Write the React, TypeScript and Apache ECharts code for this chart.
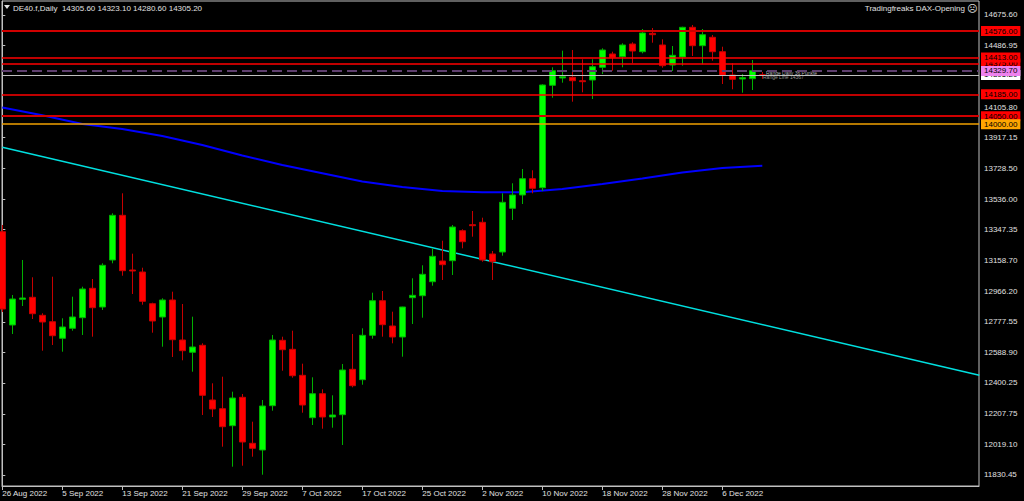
import React, { useEffect, useRef } from "react";
import * as echarts from "echarts";

// Daily candles, 26 Aug 2022 (index 0) .. 12 Dec 2022 (index 76)
const opens = [
  13335.3, 12758.2, 12917.2, 12929.6, 12818.2, 12778.6, 12676.0, 12737.8, 12803.4, 12985.2,
  12869.6, 13160.3, 13436.7, 13098.4, 13086.0, 12890.0, 12807.7, 12912.9, 12665.4, 12589.4,
  12632.7, 12294.3, 12240.5, 12135.4, 12311.0, 12026.5, 11985.1, 12259.1, 12663.6, 12607.9,
  12447.1, 12184.9, 12333.3, 12189.2, 12203.4, 12484.2, 12419.9, 12694.5, 12908.5, 12752.0,
  12684.0, 12927.1, 12939.4, 13026.0, 13154.1, 13155.9, 13341.5, 13378.6, 13393.4, 13197.4,
  13209.7, 13480.0, 13562.3, 13663.1, 13607.4, 14240.8, 14285.9, 14290.3, 14269.2, 14273.6,
  14352.1, 14434.4, 14417.7, 14496.2, 14448.6, 14562.4, 14490.1, 14366.4, 14415.8, 14599.5,
  14485.7, 14537.7, 14448.6, 14304.5, 14279.8, 14281.6, 14305.6,
];
const closes = [
  12857.2, 12919.0, 12925.2, 12828.1, 12776.8, 12692.0, 12745.9, 12807.7, 12980.9, 12865.2,
  13127.5, 13436.7, 13094.1, 13092.2, 12904.8, 12783.0, 12912.9, 12667.3, 12599.3, 12622.2,
  12323.4, 12238.7, 12129.2, 12306.7, 12034.6, 11995.6, 12257.2, 12665.4, 12605.5, 12444.6,
  12263.4, 12333.3, 12189.2, 12201.6, 12479.9, 12382.8, 12694.5, 12908.5, 12760.1, 12684.0,
  12869.6, 12941.9, 13071.8, 13183.1, 13131.2, 13364.4, 13273.4, 13372.4, 13160.3, 13149.7,
  13517.1, 13562.3, 13663.1, 13603.7, 14242.7, 14331.1, 14294.0, 14269.2, 14263.1, 14355.8,
  14459.1, 14414.0, 14490.1, 14452.9, 14564.3, 14553.8, 14362.0, 14426.3, 14599.5, 14485.7,
  14553.8, 14448.6, 14302.6, 14277.9, 14287.8, 14331.1, 14305.2,
];
const lows = [
  12838.6, 12702.6, 12875.7, 12795.3, 12599.3, 12634.5, 12593.1, 12723.0, 12696.4, 12685.9,
  12851.0, 13139.8, 13063.1, 12950.0, 12883.8, 12710.6, 12624.0, 12560.3, 12539.9, 12469.4,
  12201.6, 12189.2, 12005.5, 11881.8, 11888.0, 11943.6, 11832.3, 12228.2, 12475.6, 12432.3,
  12215.8, 12139.7, 12116.8, 12123.0, 12016.0, 12372.9, 12389.0, 12673.5, 12685.9, 12645.0,
  12562.2, 12764.4, 12803.4, 13001.3, 13036.6, 13067.5, 13232.6, 13304.4, 13149.7, 13036.6,
  13186.9, 13407.7, 13506.6, 13572.8, 13587.0, 14164.1, 14256.9, 14139.4, 14197.5, 14156.0,
  14310.7, 14331.1, 14352.1, 14376.9, 14438.7, 14504.3, 14349.7, 14329.2, 14362.0, 14422.0,
  14370.7, 14392.9, 14248.8, 14216.1, 14195.0, 14211.7, 14280.6,
];
const highs = [
  13376.7, 12943.8, 13160.3, 13053.3, 12830.6, 13057.0, 12799.7, 12933.3, 12995.1, 13042.7,
  13139.8, 13449.1, 13572.8, 13199.2, 13112.6, 12896.2, 12923.4, 12964.2, 12888.1, 12809.6,
  12645.0, 12397.6, 12438.5, 12345.7, 12331.5, 12160.1, 12294.3, 12696.4, 12685.9, 12723.0,
  12518.9, 12434.7, 12360.5, 12323.4, 12517.0, 12702.6, 12737.8, 12958.0, 12968.5, 12840.5,
  12871.4, 13047.1, 13127.5, 13232.6, 13279.6, 13376.7, 13350.1, 13463.3, 13421.9, 13215.9,
  13572.8, 13634.7, 13723.1, 13715.1, 14247.0, 14352.1, 14454.8, 14459.1, 14401.6, 14401.6,
  14469.6, 14448.6, 14500.6, 14506.8, 14589.0, 14595.2, 14525.3, 14483.9, 14603.2, 14613.8,
  14589.0, 14551.9, 14479.5, 14376.9, 14310.7, 14397.3, 14323.1,
];

// Date axis
const tickPositions = [0, 6, 12, 18, 24, 30, 36, 42, 48, 54, 60, 66, 72];
const tickLabels = [
  "26 Aug 2022", "5 Sep 2022", "13 Sep 2022", "21 Sep 2022", "29 Sep 2022", "7 Oct 2022",
  "17 Oct 2022", "25 Oct 2022", "2 Nov 2022", "10 Nov 2022", "18 Nov 2022", "28 Nov 2022", "6 Dec 2022",
];

// Price axis labels
const priceTicks = [
  14675.6, 14486.95, 14105.8, 13917.15, 13728.5, 13536.0, 13347.35, 13158.7,
  12966.2, 12777.55, 12588.9, 12400.25, 12207.75, 12019.1, 11830.45,
];

// Moving average (blue) read at bar positions
const maIndex = [0, 4, 8, 12, 16, 20, 24, 28, 32, 36, 40, 44, 48, 52, 56, 60, 64, 68, 72, 76];
const maValues = [
  14103.5, 14055.2, 14001.4, 13970.5, 13927.2, 13871.5, 13806.6, 13747.8, 13696.5, 13645.8,
  13611.8, 13587.0, 13579.0, 13579.0, 13599.4, 13630.3, 13664.3, 13701.5, 13729.3, 13743.5,
];

// Trend line (cyan)
const trendIndex = [0, 97.7];
const trendValues = [13857.3, 12447.1];

// Horizontal levels (drawn in this order)
const levelValues = [14305.2, 14375.0, 14413.0, 14329.7, 14576.0, 14185.0, 14050.0, 14000.0];
const levelKinds = ["bid", "red", "red", "dash", "redBold", "red", "redBold", "orange"];

const headerText = "DE40.f,Daily  14305.60 14323.10 14280.60 14305.20";
const indicatorText = "Tradingfreaks DAX-Opening";
const noteTexts = ["Range Daily 36 Punkte", "Range Line 14367"];

const FONT = "Liberation Sans";

const kindStyle: Record<string, { line: string; width: number; type: any; bg: string }> = {
  bid: { line: "#c0c0c0", width: 1, type: "solid", bg: "#ffffff" },
  red: { line: "#ff0000", width: 1.5, type: "solid", bg: "#ff0000" },
  redBold: { line: "#d00000", width: 2, type: "solid", bg: "#ff0000" },
  dash: { line: "#5e3f6e", width: 2, type: [10, 5], bg: "#ee82ee" },
  orange: { line: "#f0a000", width: 1.5, type: "solid", bg: "#ffa500" },
};

export default function App() {
  const ref = useRef<HTMLDivElement>(null);

  useEffect(() => {
    if (!ref.current) return;
    const chart = echarts.init(ref.current, null, { renderer: "svg" });

    const candleData = opens.map((o, i) => [i, o, closes[i], lows[i], highs[i]]);
    const maData = maIndex.map((x, i) => [x, maValues[i]]);
    const trendData = trendIndex.map((x, i) => [x, trendValues[i]]);

    const markData = levelValues.map((v, i) => {
      const s = kindStyle[levelKinds[i]];
      return {
        yAxis: v,
        lineStyle: { color: s.line, width: s.width, type: s.type },
        label: {
          show: true,
          position: "end",
          distance: 2,
          formatter: () => v.toFixed(2),
          backgroundColor: s.bg,
          color: "#000000",
          fontSize: 8,
          fontFamily: FONT,
          lineHeight: 8,
          padding: [1, 3, 1, 3],
        },
      };
    });

    chart.setOption({
      animation: false,
      backgroundColor: "#000000",
      textStyle: { fontFamily: FONT },
      grid: {
        left: 2,
        right: 45,
        top: 1,
        bottom: 15,
        show: true,
        borderColor: "#c0c0c0",
        borderWidth: 1,
        backgroundColor: "#000000",
        containLabel: false,
        outerBoundsMode: "none",
      },
      xAxis: {
        type: "value",
        min: -0.03,
        max: 97.67,
        axisLine: { show: true, onZero: false, lineStyle: { color: "#c0c0c0", width: 1 } },
        axisTick: {
          show: true,
          customValues: tickPositions,
          length: 4,
          lineStyle: { color: "#c0c0c0" },
        },
        axisLabel: {
          customValues: tickPositions,
          formatter: (v: number) => {
            const k = tickPositions.indexOf(Math.round(v));
            return k >= 0 ? tickLabels[k] : "";
          },
          align: "left",
          margin: 3,
          color: "#e0e0e0",
          fontSize: 8,
          fontFamily: FONT,
        },
        splitLine: { show: false },
      },
      yAxis: {
        type: "value",
        position: "right",
        min: 11762.41,
        max: 14762.19,
        axisLine: { show: true, lineStyle: { color: "#c0c0c0", width: 1 } },
        axisTick: {
          show: true,
          customValues: priceTicks,
          length: 3,
          lineStyle: { color: "#c0c0c0" },
        },
        axisLabel: {
          customValues: priceTicks,
          formatter: (v: number) => v.toFixed(2),
          margin: 5,
          color: "#e0e0e0",
          fontSize: 8,
          fontFamily: FONT,
        },
        splitLine: { show: false },
      },
      series: [
        {
          name: "levels",
          type: "line",
          data: trendData,
          clip: false,
          showSymbol: false,
          symbol: "none",
          lineStyle: { color: "#00e0e0", width: 1.5 },
          z: 1,
          markLine: {
            silent: true,
            symbol: ["none", "none"],
            animation: false,
            data: markData,
          },
        },
        {
          name: "MA",
          type: "line",
          data: maData,
          showSymbol: false,
          symbol: "none",
          lineStyle: { color: "#0000ff", width: 2 },
          z: 2,
        },
        {
          name: "DE40.f",
          type: "candlestick",
          data: candleData,
          barWidth: 7,
          z: 3,
          itemStyle: {
            color: "#00ff00",
            color0: "#ff0000",
            borderColor: "#00b000",
            borderColor0: "#c80000",
            borderWidth: 1,
          },
        },
      ],
      graphic: [
        {
          type: "polygon",
          shape: { points: [[4, 5], [10, 5], [7, 9]] },
          style: { fill: "#e0e0e0" },
        },
        {
          type: "text",
          x: 13,
          y: 8,
          style: {
            text: headerText,
            fill: "#e0e0e0",
            fontSize: 8,
            fontFamily: FONT,
            verticalAlign: "middle",
          },
        },
        {
          type: "text",
          x: 965,
          y: 8,
          style: {
            text: indicatorText,
            fill: "#e0e0e0",
            fontSize: 8,
            fontFamily: FONT,
            align: "right",
            verticalAlign: "middle",
          },
        },
        {
          type: "text",
          x: 967,
          y: 8,
          style: {
            text: "☹",
            fill: "#e0e0e0",
            fontSize: 10,
            fontFamily: "DejaVu Sans",
            verticalAlign: "middle",
          },
        },
        {
          type: "text",
          x: 766,
          y: 73,
          style: {
            text: noteTexts[0],
            fill: "#b0b0b0",
            fontSize: 5,
            fontFamily: FONT,
            verticalAlign: "middle",
          },
        },
        {
          type: "text",
          x: 763,
          y: 77,
          style: {
            text: noteTexts[1],
            fill: "#909090",
            fontSize: 5,
            fontFamily: FONT,
            verticalAlign: "middle",
          },
        },
      ],
    });

    return () => {
      chart.dispose();
    };
  }, []);

  return (
    <div
      ref={ref}
      style={{ position: "fixed", left: 0, top: 0, width: 1024, height: 501, background: "#000" }}
    />
  );
}
